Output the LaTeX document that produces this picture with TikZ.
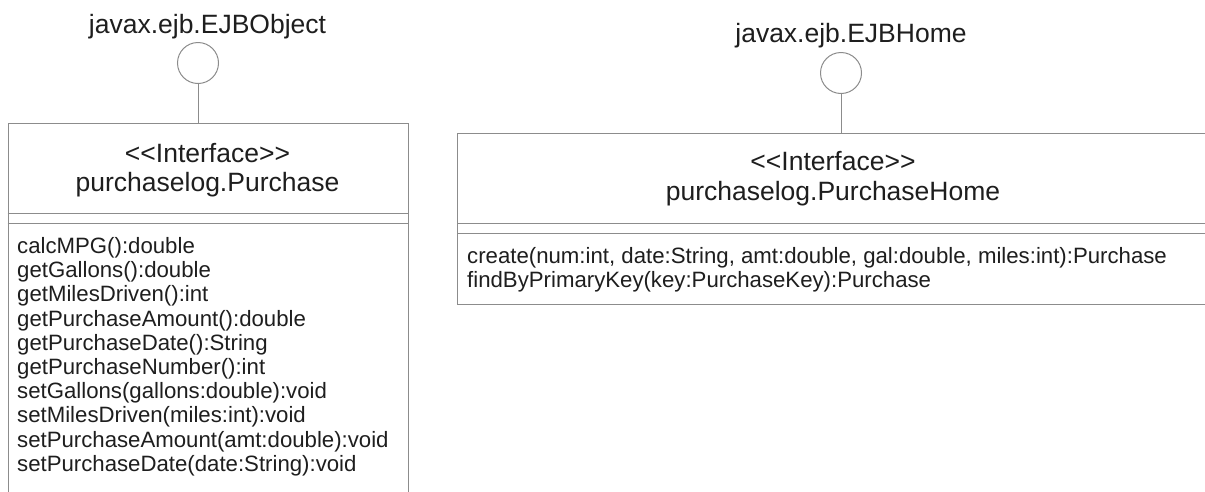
\documentclass[tikz,border=0pt]{standalone}
\usepackage{fontspec}
\setmainfont{Liberation Sans}
\definecolor{linegray}{HTML}{8C8C8C}
\definecolor{textdark}{HTML}{1E1E1E}
\begin{document}
\begin{tikzpicture}[x=1pt,y=-1pt,
  umlbox/.style={draw=linegray, line width=1pt, rectangle, inner sep=0pt, anchor=north west},
  iface/.style={draw=linegray, line width=1pt, circle, minimum size=41pt, inner sep=0pt},
  lollipop/.style={draw=linegray, line width=1pt},
  divider/.style={draw=linegray, line width=1pt},
  titletext/.style={text=textdark, font=\fontsize{26.5}{30}\selectfont, anchor=base, inner sep=0pt},
  methtext/.style={text=textdark, font=\fontsize{22.2}{24}\selectfont, anchor=base west, inner sep=0pt}]
\useasboundingbox (0,0) rectangle (1205,491);
\fill[white] (0,0) rectangle (1205,491);
\clip (0,0) rectangle (1205,491);

% ---------- left: Purchase ----------
\node[iface] (eo) at (198,63) {};
\node[titletext] (eoname) at (207.5,33) {javax.ejb.EJBObject};
\node[umlbox, minimum width=400pt, minimum height=420pt] (pbox) at (7.5,123) {};
\draw[lollipop] (eo.south) -- (eo.south |- pbox.north);
\node[titletext] (pster) at (207.5,162) {<\kern0pt<Interface>\kern0pt>};
\node[titletext] (pname) at (207.5,191) {purchaselog.Purchase};
\draw[divider] ([yshift=-90pt]pbox.north west) -- ([yshift=-90pt]pbox.north east);
\draw[divider] ([yshift=-100pt]pbox.north west) -- ([yshift=-100pt]pbox.north east);
\foreach \t [count=\i from 0] in {calcMPG():double, getGallons():double, getMilesDriven():int,
  getPurchaseAmount():double, getPurchaseDate():String, getPurchaseNumber():int,
  setGallons(gallons:double):void, setMilesDriven(miles:int):void,
  setPurchaseAmount(amt:double):void, setPurchaseDate(date:String):void}
  \node[methtext] (pm\i) at (17,253.5+24.2*\i) {\t};

% ---------- right: PurchaseHome ----------
\node[iface] (eh) at (841,73) {};
\node[titletext] (ehname) at (851,42) {javax.ejb.EJBHome};
\node[umlbox, minimum width=752pt, minimum height=171pt] (hbox) at (457,133) {};
\draw[lollipop] (eh.south) -- (eh.south |- hbox.north);
\node[titletext] (hster) at (833,170) {<\kern0pt<Interface>\kern0pt>};
\node[titletext] (hname) at (833,200) {purchaselog.PurchaseHome};
\draw[divider] ([yshift=-90pt]hbox.north west) -- ([yshift=-90pt]hbox.north east);
\draw[divider] ([yshift=-100pt]hbox.north west) -- ([yshift=-100pt]hbox.north east);
\node[methtext] (hm0) at (467,263.5) {create(num:int, date:String, amt:double, gal:double, miles:int):Purchase};
\node[methtext] (hm1) at (467,287) {findByPrimaryKey(key:PurchaseKey):Purchase};
\end{tikzpicture}
\end{document}
